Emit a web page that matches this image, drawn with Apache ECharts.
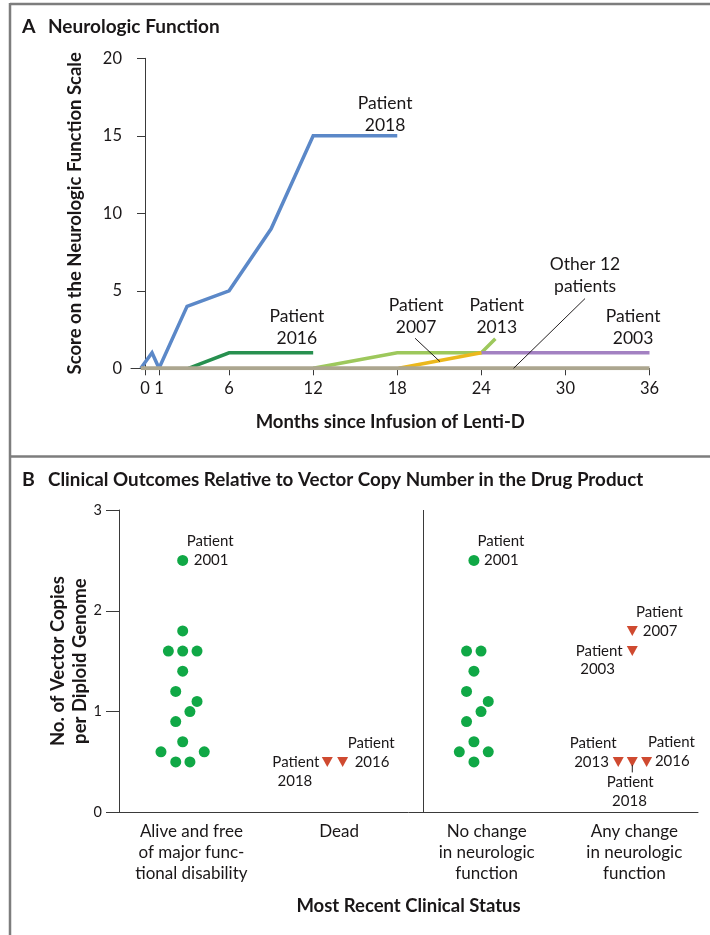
<!DOCTYPE html>
<html><head><meta charset="utf-8">
<script src="https://cdn.jsdelivr.net/npm/echarts@6/dist/echarts.min.js"></script>
<style>html,body{margin:0;padding:0;background:#fff}#c{width:710px;height:935px}</style>
</head><body><div id="c"></div>
<script>
// ---------- Panel A data (months since infusion, neurologic function score) ----------
const months2018 = [-0.3, 0.5, 1, 3, 6, 9, 12, 18];
const score2018  = [0, 1, 0, 4, 5, 9, 15, 15];
const months2016 = [3.1, 6, 12];
const score2016  = [0, 1, 1];
const months2013 = [12, 18, 24, 25];
const score2013  = [0, 1, 1, 1.9];
const months2007 = [18.1, 24];
const score2007  = [0, 1];
const months2003 = [24, 36];
const score2003  = [1, 1];
const monthsOther = [-0.3, 36];
const scoreOther  = [0, 0];
const monthTicks = [0, 1, 6, 12, 18, 24, 30, 36];

// ---------- Panel B data (clinical status vs vector copy number) ----------
const categories = ['Alive and free\nof major func-\ntional disability', 'Dead', 'No change\nin neurologic\nfunction', 'Any change\nin neurologic\nfunction'];
const categoryPos = [0.5, 1.52, 2.54, 3.56];
const aliveX = [0.44, 0.44, 0.341, 0.44, 0.539, 0.44, 0.392, 0.539, 0.49, 0.392, 0.44, 0.29, 0.589, 0.392, 0.49];
const aliveY = [2.5, 1.8, 1.6, 1.6, 1.6, 1.4, 1.2, 1.1, 1.0, 0.9, 0.7, 0.6, 0.6, 0.5, 0.5];
const deadX = [1.439, 1.545];            // patients 2018, 2016
const deadY = [0.5, 0.5];
const noChangeX = [2.452, 2.401, 2.501, 2.452, 2.401, 2.551, 2.501, 2.401, 2.452, 2.351, 2.551, 2.452];
const noChangeY = [2.5, 1.6, 1.6, 1.4, 1.2, 1.1, 1.0, 0.9, 0.7, 0.6, 0.6, 0.5];
const changeX = [3.546, 3.546, 3.449, 3.546, 3.645];   // 2007, 2003, 2013, 2018, 2016
const changeY = [1.8, 1.6, 0.5, 0.5, 0.5];

const FONT = 'Lato';
const TXT = '#1a1718';
const AX = '#3a3a3a';
const pair = (xs, ys) => xs.map((x, i) => [x, ys[i]]);

const chart = echarts.init(document.getElementById('c'));

function lineSeries(xs, ys, color, z, w) {
  return { type: 'line', xAxisIndex: 0, yAxisIndex: 0, data: pair(xs, ys), symbol: 'none', silent: true,
    z: z, lineStyle: { color: color, width: w || 3.5, cap: 'butt', join: 'miter' } };
}
function scatterSeries(xs, ys, kind, extra) {
  const s = { type: 'scatter', xAxisIndex: 1, yAxisIndex: 1, data: pair(xs, ys), silent: true, z: 5 };
  if (kind === 'dot') { s.symbol = 'circle'; s.symbolSize = 11; s.itemStyle = { color: '#10a846', opacity: 1 }; }
  else { s.symbol = 'triangle'; s.symbolRotate = 180; s.symbolSize = [11, 10]; s.itemStyle = { color: '#cf4a30', opacity: 1 }; }
  return Object.assign(s, extra || {});
}

const labelStyle = (size) => ({ fontFamily: FONT, fontSize: size, color: TXT });
const nameStyle = { fontFamily: FONT, fontWeight: 'bold', fontSize: 18.5, color: TXT };

chart.setOption({
  animation: false,
  grid: [
    { left: 131, top: 58.3, width: 518.5, height: 310, outerBoundsMode: 'none' },
    { left: 119, top: 510, width: 579, height: 302.3, outerBoundsMode: 'none' }
  ],
  xAxis: [
    { type: 'value', gridIndex: 0, min: -1, max: 36,
      axisLine: { show: true, onZero: false, lineStyle: { color: AX, width: 1 } },
      splitLine: { show: false },
      axisTick: { show: true, customValues: monthTicks, length: 7, lineStyle: { color: AX } },
      axisLabel: Object.assign({ customValues: monthTicks, margin: 12 }, labelStyle(16.5)),
      name: 'Months since Infusion of Lenti-D', nameLocation: 'middle', nameGap: 44, nameMoveOverlap: false,
      nameTextStyle: nameStyle },
    { type: 'value', gridIndex: 1, min: 0, max: 4,
      axisLine: { show: true, onZero: false, lineStyle: { color: AX, width: 1 } },
      splitLine: { show: false }, axisTick: { show: false },
      axisLabel: Object.assign({ customValues: categoryPos, margin: 9, lineHeight: 21,
        formatter: (v) => { let bi = 0; categoryPos.forEach((p, i) => { if (Math.abs(p - v) < Math.abs(categoryPos[bi] - v)) bi = i; }); return categories[bi]; } }, labelStyle(17)),
      name: 'Most Recent Clinical Status', nameLocation: 'middle', nameGap: 84, nameMoveOverlap: false,
      nameTextStyle: nameStyle }
  ],
  yAxis: [
    { type: 'value', gridIndex: 0, min: 0, max: 20, interval: 5,
      axisLine: { show: true, lineStyle: { color: AX, width: 1 } },
      splitLine: { show: false },
      axisTick: { show: true, length: 8, lineStyle: { color: AX } },
      axisLabel: Object.assign({ margin: 9 }, labelStyle(16.5)),
      name: 'Score on the Neurologic Function Scale', nameLocation: 'middle', nameGap: 46, nameMoveOverlap: false,
      nameTextStyle: nameStyle },
    { type: 'value', gridIndex: 1, min: 0, max: 3, interval: 1,
      axisLine: { show: true, lineStyle: { color: AX, width: 1 } },
      splitLine: { show: false },
      axisTick: { show: true, length: 13, lineStyle: { color: AX } },
      axisLabel: Object.assign({ margin: 17 }, labelStyle(14.5)),
      name: 'No. of Vector Copies\nper Diploid Genome', nameLocation: 'middle', nameGap: 28, nameMoveOverlap: false,
      nameTextStyle: Object.assign({ lineHeight: 22 }, nameStyle) }
  ],
  series: [
    lineSeries(months2016, score2016, '#27904f', 2),
    lineSeries(months2013, score2013, '#9dc85c', 3),
    lineSeries(months2007, score2007, '#ebb81c', 4),
    lineSeries(months2003, score2003, '#a381c2', 3),
    lineSeries(months2018, score2018, '#5b88c8', 5),
    lineSeries(monthsOther, scoreOther, '#aca68f', 6, 4),
    scatterSeries(aliveX, aliveY, 'dot', {
      markLine: { silent: true, symbol: 'none', label: { show: false },
        lineStyle: { color: AX, width: 1, type: 'solid' }, data: [{ xAxis: 2.1 }] } }),
    scatterSeries(deadX, deadY, 'tri'),
    scatterSeries(noChangeX, noChangeY, 'dot'),
    scatterSeries(changeX, changeY, 'tri')
  ]
});

// ---------- annotations ----------
const G = [];
function txt(x, y, text, opts) {
  opts = opts || {};
  G.push({ type: 'text', x: x, y: y, silent: true, z: 50,
    style: { text: text, fill: TXT, font: (opts.weight || 'normal') + ' ' + (opts.size || 14) + 'px ' + FONT,
      align: opts.align || 'left', verticalAlign: 'middle', textAlign: opts.align || 'left', textVerticalAlign: 'middle',
      lineHeight: opts.lh || 21 } });
}
function seg(p, q, w) {
  G.push({ type: 'line', silent: true, z: 50, shape: { x1: p[0], y1: p[1], x2: q[0], y2: q[1] },
    style: { stroke: '#231f20', lineWidth: w || 1 } });
}
const pA = (x, y) => chart.convertToPixel({ gridIndex: 0 }, [x, y]);
const pB = (x, y) => chart.convertToPixel({ gridIndex: 1 }, [x, y]);

// Panel A labels (anchored in data coordinates)
[
  ['Patient\n2018', 17.13, 16.4], ['Patient\n2016', 10.83, 2.63], ['Patient\n2007', 19.34, 3.37],
  ['Patient\n2013', 25.1, 3.37], ['Other 12\npatients', 31.4, 5.99], ['Patient\n2003', 34.83, 2.66]
].forEach(a => { const p = pA(a[1], a[2]); txt(p[0], p[1], a[0], { size: 17.5, align: 'center', lh: 22 }); });
seg(pA(19.27, 1.94), pA(21.05, 0.43));
seg(pA(31.4, 4.5), pA(26.3, 0));

// Panel B labels (offset from their marks)
function lab(xs, ys, i, text, dx, dy, align) {
  const p = pB(xs[i], ys[i]);
  txt(p[0] + dx, p[1] + dy, text, { size: 15, align: align });
}
lab(aliveX, aliveY, 0, 'Patient', 4, -19, 'left');
lab(aliveX, aliveY, 0, '2001', 11, 0, 'left');
lab(noChangeX, noChangeY, 0, 'Patient', 3.5, -19, 'left');
lab(noChangeX, noChangeY, 0, '2001', 10, 0, 'left');
lab(deadX, deadY, 0, 'Patient', -8, 0, 'right');
lab(deadX, deadY, 0, '2018', -15, 19.5, 'right');
lab(deadX, deadY, 1, 'Patient', 5, -18.5, 'left');
lab(deadX, deadY, 1, '2016', 12, 0, 'left');
lab(changeX, changeY, 0, 'Patient', 3.7, -18.5, 'left');
lab(changeX, changeY, 0, '2007', 10.4, 0, 'left');
lab(changeX, changeY, 1, 'Patient', -9.6, 0, 'right');
lab(changeX, changeY, 1, '2003', -17.3, 18, 'right');
lab(changeX, changeY, 2, 'Patient', -1.6, -18.3, 'right');
lab(changeX, changeY, 2, '2013', -9.3, 0, 'right');
lab(changeX, changeY, 4, 'Patient', 1.3, -19.5, 'left');
lab(changeX, changeY, 4, '2016', 8.3, -0.5, 'left');
lab(changeX, changeY, 3, 'Patient', -2, 20.5, 'center');
lab(changeX, changeY, 3, '2018', -2.8, 39.5, 'center');
{ const p = pB(changeX[3], changeY[3]); seg([p[0], p[1] + 3], [p[0], p[1] + 10.5]); }

// Panel titles
txt(22, 27, 'A', { size: 19.5, weight: 'bold' });
txt(48, 27, 'Neurologic Function', { size: 19, weight: 'bold' });
txt(22, 480, 'B', { size: 19.5, weight: 'bold' });
txt(48, 480, 'Clinical Outcomes Relative to Vector Copy Number in the Drug Product', { size: 18.8, weight: 'bold' });

// Frame
const FR = '#7d7d7d';
G.push({ type: 'line', silent: true, shape: { x1: 10, y1: 4, x2: 710, y2: 4 }, style: { stroke: FR, lineWidth: 2.5 } });
G.push({ type: 'line', silent: true, shape: { x1: 10, y1: 3, x2: 10, y2: 935 }, style: { stroke: FR, lineWidth: 2.5 } });
G.push({ type: 'line', silent: true, shape: { x1: 10, y1: 456.5, x2: 710, y2: 456.5 }, style: { stroke: FR, lineWidth: 2.5 } });

chart.setOption({ graphic: { elements: G } });
</script></body></html>
